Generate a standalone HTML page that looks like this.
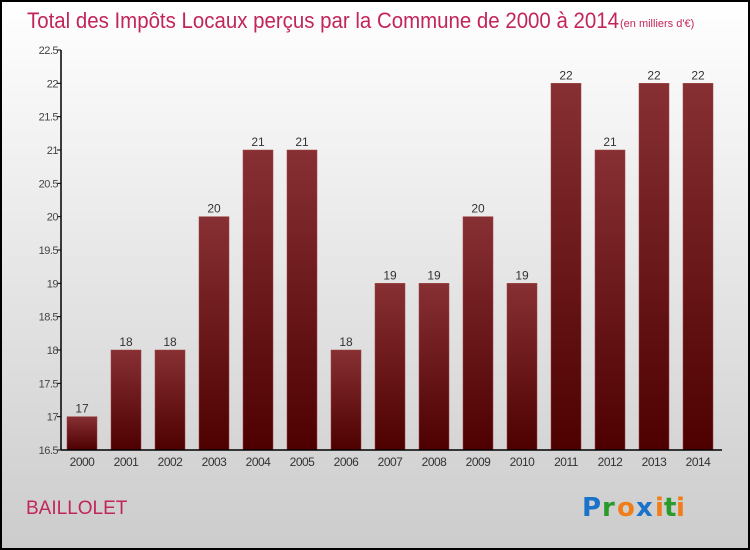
<!DOCTYPE html>
<html><head><meta charset="utf-8"><style>
body{margin:0}
svg{display:block;font-family:"Liberation Sans",sans-serif}
</style></head><body>
<svg width="750" height="550" xmlns="http://www.w3.org/2000/svg">
<defs>
<linearGradient id="bg" x1="0" y1="0" x2="0" y2="1"><stop offset="0" stop-color="#ffffff"/><stop offset="1" stop-color="#cccccc"/></linearGradient>
<linearGradient id="bar" x1="0" y1="0" x2="0" y2="1"><stop offset="0" stop-color="#873034"/><stop offset="1" stop-color="#4e0000"/></linearGradient>
</defs>
<rect x="1" y="1" width="748" height="548" fill="url(#bg)" stroke="#000" stroke-width="2"/>
<text x="27" y="28" font-size="22" fill="#c2255c" textLength="592" lengthAdjust="spacingAndGlyphs">Total des Impôts Locaux perçus par la Commune de 2000 à 2014</text>
<text x="620" y="27" font-size="11" fill="#c2255c">(en milliers d'€)</text>
<g id="yaxis"></g>
<g id="bars"></g>
<g id="xaxis"></g>
<text x="26" y="514" font-size="19" fill="#c2255c">BAILLOLET</text>
<g font-size="26" font-weight="bold" font-family="'DejaVu Sans',sans-serif">
<text x="582" y="516" fill="#1a73c8">P</text><text x="602" y="516" fill="#2a9a2a">r</text><text x="617" y="516" fill="#f07d1a">o</text><text x="636" y="516" fill="#1a73c8">x</text><text x="655" y="516" fill="#f07d1a">i</text><text x="664" y="516" fill="#2a9a2a">t</text><text x="676" y="516" fill="#f07d1a">i</text>
</g>
</svg>
<script>
const years=["2000","2001","2002","2003","2004","2005","2006","2007","2008","2009","2010","2011","2012","2013","2014"];
const values=[17,18,18,20,21,21,18,19,19,20,19,22,21,22,22];
const labels=["17","18","18","20","21","21","18","19","19","20","19","22","21","22","22"];
const yTicks=[16.5,17,17.5,18,18.5,19,19.5,20,20.5,21,21.5,22,22.5];
const yTickLabels=["16.5","17","17.5","18","18.5","19","19.5","20","20.5","21","21.5","22","22.5"];
const NS="http://www.w3.org/2000/svg";
const y0=16.5,y1=22.5,plotTop=50,plotBot=450,plotLeft=61,plotRight=722;
const ys=v=>plotBot-(v-y0)/(y1-y0)*(plotBot-plotTop);
const xs=i=>82+i*44;
function mk(t,a,p){const e=document.createElementNS(NS,t);for(const k in a)e.setAttribute(k,a[k]);p.appendChild(e);return e;}
const ya=document.getElementById('yaxis'),ba=document.getElementById('bars'),xa=document.getElementById('xaxis');
yTicks.forEach((t,i)=>{const y=ys(t);
const l=mk('line',{x1:plotLeft-4,x2:plotLeft,y1:y,y2:y,stroke:'#000'},ya);


const tx=mk('text',{x:plotLeft-3,y:y+4,'font-size':11,fill:'#444','text-anchor':'end','letter-spacing':'-0.5'},ya);
tx.textContent=yTickLabels[i];

});
values.forEach((v,i)=>{const x=xs(i),y=ys(v);
const r=mk('rect',{x:x-15,y:y,width:30,height:plotBot-y,fill:'url(#bar)',stroke:'#a04040','stroke-width':0.5},ba);


const t=mk('text',{x:x,y:y-4,'font-size':12,fill:'#333','text-anchor':'middle'},ba);
t.textContent=labels[i];


const xl=mk('text',{x:x,y:466,'font-size':12,fill:'#333','text-anchor':'middle','letter-spacing':'-0.5'},xa);
xl.textContent=years[i];

});
const al=mk('line',{x1:plotLeft,x2:plotLeft,y1:plotTop,y2:plotBot,stroke:'#000','stroke-width':1.5},ya);


const bl=mk('line',{x1:plotLeft,x2:plotRight,y1:plotBot,y2:plotBot,stroke:'#000','stroke-width':1.5},xa);


</script>
</body></html>
